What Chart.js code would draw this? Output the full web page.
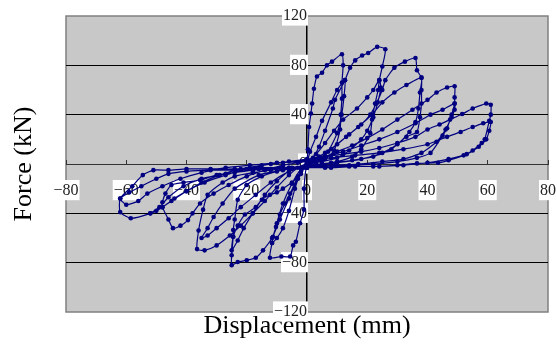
<!DOCTYPE html>
<html>
<head>
<meta charset="utf-8">
<script src="https://cdn.jsdelivr.net/npm/chart.js@4/dist/chart.umd.min.js"></script>
<style>
  html, body { margin: 0; padding: 0; background: #fff; }
</style>
</head>
<body>
<canvas id="myChart" width="557" height="354"></canvas>
<script>
// tick values
var xTickValues = [-80, -60, -40, -20, 0, 20, 40, 60, 80];
var yTickValues = [-120, -80, -40, 0, 40, 80, 120];

// displacement (mm) / force (kN), loop by loop
var disp12 = [0, 0.3, 0.7, 1.3, 1.7, 2.3, 3.3, 5, 6.6, 8.3, 11.6, 12, 11.6, 11.6, 11.2, 11, 9, 6, 3, 0, -1, -1, -2.3, -3.7, -4.6, -5.6, -8.5, -12.3, -11.6, -11.3, -10.3, -9, -7.3, -5.6, -3, -1,
              0, 1, 3, 5, 8, 10, 12.6, 12.3, 11.5, 10, 7, 4, 0, -2, -4, -6, -8, -10, -11.6, -10, -8, -5, -2];
var force12 = [0, 12, 30, 41, 49, 61, 71, 74, 80, 83, 89, 80, 66, 53, 40, 28, 11, 4, 1, -1, -20, -37, -48, -63, -66, -75, -75, -76, -64, -59, -51, -41, -32, -24, -10, -2,
               1, 10, 22, 35, 50, 60, 68, 55, 40, 25, 10, 3, 0, -6, -20, -38, -52, -60, -64, -48, -32, -16, -4];

var disp25 = [0, 2, 4, 6, 8.6, 9.3, 12.6, 14.3, 16, 18.3, 20.3, 23.3, 26, 25, 24, 23.6, 22.6, 21.6, 21, 18, 15, 10, 5, 0, -5, -10, -15, -20, -23, -24, -24.5, -24.5, -25, -25, -23, -20, -17, -14.6, -11.6, -9, -6, -3, -1,
              0, 3, 6, 9, 12, 16.6, 20, 22, 24, 24.5, 23.5, 22, 20, 18, 14, 10, 5, 0, -2, -5, -8, -10, -12.3, -15, -17, -20.6, -23, -24.5, -25, -23, -21, -18, -14, -10, -5];
var force25 = [0, 5, 14, 27, 45, 52, 68, 78, 84, 88, 90, 95, 93, 79, 68, 60, 49, 36, 25, 12, 6, 2, 0, -1, -3, -6, -10, -17, -29, -45, -53.5, -59, -74, -82, -79.5, -78, -76, -70, -60, -45, -28, -12, -3,
               2, 8, 17, 27, 36, 45, 54, 60, 68, 62, 50, 38, 27, 20, 11, 5, 2, 0, -8, -15, -20, -23, -25, -29, -35, -41, -50, -59, -70, -62, -52, -40, -25, -14, -4];

var disp36 = [0, 3, 6, 10, 14, 18, 21, 23, 25, 26, 29, 32.5, 36, 36.5, 38, 38, 38, 37.5, 36.5, 33, 28, 22, 15, 8, 0, -6, -12, -18, -24, -28, -33, -34.5, -36, -36.5, -34, -30, -25.6, -22, -18, -14, -10, -6, -3,
              0, 4, 8, 13, 17, 21.6, 25, 29, 33, 38, 37.5, 37, 36, 34, 30, 25, 18, 10, 0, -8, -16, -24, -28, -31, -33, -35, -33, -30, -26, -22, -17, -12, -6];
var force36 = [0, 4, 9, 16, 24, 32, 40, 49, 60, 68, 78, 83, 86, 76, 70, 60, 49, 38, 26, 22, 12, 6, 3, 1, -1, -3, -5, -7, -10, -15, -25, -37, -54, -69, -70, -66, -58, -50, -40, -30, -19, -9, -3,
               0, 6, 12, 22, 30, 40, 50, 58, 64, 70, 58, 45, 34, 26, 16, 9, 4, 1, -2, -5, -9, -20, -32, -43, -52, -60, -58, -52, -44, -35, -25, -15, -6];

var disp48 = [0, 5, 10, 15, 20, 25, 30, 35, 40, 43, 46.5, 49, 49, 49, 48, 46.5, 45, 41, 36.5, 30, 22, 14, 6, 0, -6, -12, -18, -24, -30, -35.5, -41, -45, -47, -48, -48, -46, -44.5, -42, -39.5, -38, -35.5, -31, -26, -20, -14, -8, -3,
              0, 6, 12, 18, 24, 30, 36, 41, 45, 49, 49, 48, 46, 43, 38, 32, 25, 17, 9, 0, -9, -18, -27, -35, -41, -46, -49, -52, -50, -45, -40, -34, -27, -20, -12, -6];
var force48 = [0, 5, 10, 15, 21, 28, 36, 44, 52, 58, 62, 63, 54, 49, 40, 29, 23, 9, 5, 2, 0, -1, -2, -3, -3, -4, -5, -7, -9, -13, -15, -17, -24, -31, -35, -45, -52, -50, -45.5, -40, -32, -24, -17, -10, -5, -1, 1,
               2, 6, 10, 15, 20, 26, 33, 40, 44, 49, 44, 38, 28, 18, 9, 4, 2, 0, -1, -2, -3, -5, -8, -12, -18, -27, -35, -40, -38, -30, -22, -15, -9, -4, 0, 2];

var disp61 = [0, 6, 12, 18, 24, 30, 36, 40, 44, 47.5, 51.5, 55, 59.5, 61, 61, 60.5, 59, 58, 55, 52, 47, 43.5, 36.5, 30, 22, 14, 6, 0, -8, -16, -24, -32, -40, -46, -51, -54.5, -58, -62, -62, -58.5, -52, -48, -44, -40, -35, -29, -22, -15, -8,
              0, 8, 16, 24, 32, 40, 46.5, 51, 55, 58.5, 61, 60.5, 59.5, 57, 53, 47, 40, 32, 24, 16, 8, 0, -8, -16, -24, -32, -40, -46, -50, -55, -59, -62, -60, -56, -53, -48, -42, -35, -27, -19, -10, 0];
var force61 = [4, 6, 8, 10, 13, 17, 22, 28, 32, 36, 40.5, 45, 49, 48, 40, 35, 20, 17, 11, 7, 3, 1, 0.5, -1, -2, -2, -3, -3, -3, -3, -4, -4, -4, -5, -5, -9, -18, -28, -39, -44, -40, -35, -28, -22, -15, -9, -4, -1, 1,
               3, 5, 7, 9, 12, 16, 22, 26, 30, 33, 34, 27, 20, 14, 8, 4, 1, -1, -2, -2, -3, -3, -4, -4, -5, -5, -6, -8, -12, -18, -23, -28, -33, -30, -24, -18, -12, -7, -3, -1, 1, 2];

var loops = [[disp12, force12], [disp25, force25], [disp36, force36], [disp48, force48], [disp61, force61]];
var points = [];
loops.forEach(function (loop) {
    loop[0].forEach(function (x, i) {
        points.push({ x: x, y: loop[1][i] });
    });
});

var serif = 'Liberation Serif, Times New Roman, serif';
var minusLabel = function (v) { return v < 0 ? '\u2212' + Math.abs(v) : String(v); };

// axes sit at zero inside the plot, so they should not push the plot edges in
var noEdgePadding = function (scale) {
    scale.paddingLeft = 0;
    scale.paddingRight = 0;
    scale.paddingTop = 0;
    scale.paddingBottom = 0;
};

var plotBackground = {
    id: 'plotBackground',
    beforeDraw: function (chart) {
        var ctx = chart.ctx, a = chart.chartArea;
        ctx.save();
        ctx.fillStyle = '#c8c8c8';
        ctx.fillRect(a.left, a.top, a.right - a.left, a.bottom - a.top);
        ctx.strokeStyle = '#808080';
        ctx.lineWidth = 1.5;
        ctx.strokeRect(a.left, a.top, a.right - a.left, a.bottom - a.top);
        ctx.restore();
    }
};

var ctx = document.getElementById('myChart').getContext('2d');
var myChart = new Chart(ctx, {
    type: 'scatter',
    data: {
        datasets: [{
            label: 'Force',
            data: points,
            showLine: true,
            borderColor: '#000080',
            borderWidth: 1.2,
            backgroundColor: '#000080',
            pointBackgroundColor: '#000080',
            pointBorderColor: '#000080',
            pointBorderWidth: 0,
            pointRadius: 2.3,
            tension: 0.2
        }]
    },
    options: {
        responsive: false,
        animation: false,
        devicePixelRatio: 1,
        layout: {
            autoPadding: false,
            padding: { top: 16, right: 9, left: 0, bottom: 0 }
        },
        plugins: {
            legend: { display: false },
            tooltip: { enabled: false },
            title: {
                display: true,
                text: 'Force (kN)',
                position: 'left',
                fullSize: false,
                color: '#000000',
                font: { family: serif, size: 26, weight: 'normal', lineHeight: 1 },
                padding: { top: 11, bottom: 29 }
            },
            subtitle: {
                display: true,
                text: 'Displacement (mm)',
                position: 'bottom',
                fullSize: false,
                color: '#000000',
                font: { family: serif, size: 26, weight: 'normal', lineHeight: 1 },
                padding: { top: 1, bottom: 15 }
            }
        },
        scales: {
            x: {
                type: 'linear',
                position: { y: 0 },
                min: -80,
                max: 80,
                afterBuildTicks: function (scale) {
                    scale.ticks = xTickValues.map(function (v) { return { value: v }; });
                },
                afterFit: noEdgePadding,
                ticks: {
                    color: '#222222',
                    font: { family: serif, size: 16 },
                    padding: 22,
                    maxRotation: 0,
                    callback: minusLabel,
                    showLabelBackdrop: true,
                    backdropColor: '#ffffff',
                    backdropPadding: { top: 1, bottom: 0, left: 1, right: 1 }
                },
                grid: {
                    drawOnChartArea: false,
                    drawTicks: true,
                    tickLength: -5,
                    color: '#333333'
                },
                border: { color: '#333333', width: 1 }
            },
            y: {
                type: 'linear',
                position: { x: 0 },
                min: -120,
                max: 120,
                afterBuildTicks: function (scale) {
                    scale.ticks = yTickValues.map(function (v) { return { value: v }; });
                },
                afterFit: noEdgePadding,
                ticks: {
                    color: '#222222',
                    font: { family: serif, size: 16 },
                    padding: 10,
                    callback: minusLabel,
                    showLabelBackdrop: true,
                    backdropColor: '#ffffff',
                    backdropPadding: { top: 1, bottom: 0, left: 1, right: 1 }
                },
                grid: {
                    drawTicks: false,
                    color: function (c) {
                        return (c.tick && Math.abs(c.tick.value) === 120) ? 'rgba(0,0,0,0)' : '#000000';
                    },
                    lineWidth: 1
                },
                border: { color: '#000000', width: 1.5 }
            }
        }
    },
    plugins: [plotBackground]
});
</script>
</body>
</html>
